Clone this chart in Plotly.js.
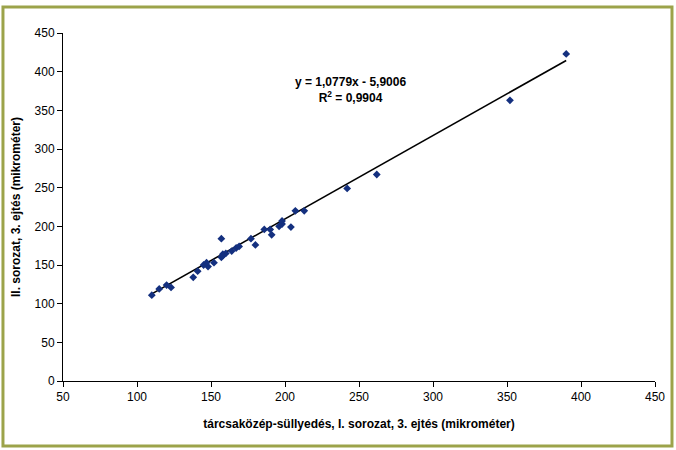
<!DOCTYPE html>
<html><head><meta charset="utf-8">
<script src="https://cdn.plot.ly/plotly-3.0.1.min.js"></script>
<style>html,body{margin:0;padding:0;background:#fff}#chart{width:676px;height:450px}</style>
</head><body><div id="chart"></div>
<script>
const xValues = [110,115,120,123,138,141,145,148,147,152,157,157,158,160,158,164,167,169,177,180,186,190,191,196,198,198,204,207,213,242,262,352,390];
const yValues = [111,119,124,121,134,142,150,148,153,153,160,184,164,165,162,168,172,174,184,176,196,196,189,200,203,207,199,220,220,249,267,363,423];
const slope = 1.0779;
const intercept = -5.9006;
const rSquared = 0.9904;
const equationText = "y = 1,0779x - 5,9006";
const rText = "R<sup>2</sup> = 0,9904";
const xTicks = [50,100,150,200,250,300,350,400,450];
const yTicks = [0,50,100,150,200,250,300,350,400,450];

const xMin = Math.min(...xValues), xMax = Math.max(...xValues);
const trendX = [xMin, xMax];
const trendY = trendX.map(x => slope * x + intercept);

const font = "Liberation Sans, Arial, sans-serif";
const data = [
  {x: trendX, y: trendY, type: 'scatter', mode: 'lines', line: {color: '#000', width: 1.6}, hoverinfo: 'skip'},
  {x: xValues, y: yValues, type: 'scatter', mode: 'markers',
   marker: {symbol: 'diamond', size: 6, color: '#14307F'}}
];
const layout = {
  width: 676, height: 450,
  margin: {l: 63, r: 21, t: 33, b: 69},
  showlegend: false,
  paper_bgcolor: '#fff', plot_bgcolor: '#fff',
  font: {family: font, size: 12, color: '#000'},
  xaxis: {range: [50, 450], tickvals: xTicks, showgrid: false, zeroline: false,
    showline: true, linecolor: '#000', linewidth: 1, ticks: 'outside', ticklen: 5, tickcolor: '#000',
    tickfont: {size: 12},
    title: {text: '<b>tárcsaközép-süllyedés, I. sorozat, 3. ejtés (mikrométer)</b>', font: {size: 12}, standoff: 16}},
  yaxis: {range: [0, 450], tickvals: yTicks, showgrid: false, zeroline: false,
    showline: true, linecolor: '#000', linewidth: 1, ticks: 'outside', ticklen: 5, tickcolor: '#000',
    tickfont: {size: 12},
    title: {text: '<b>II. sorozat, 3. ejtés (mikrométer)</b>', font: {size: 12}, standoff: 11}},
  annotations: [{x: 244, y: 376, xref: 'x', yref: 'y', showarrow: false,
    text: '<b>' + equationText + '<br>' + rText + '</b>', font: {size: 12, family: font}, align: 'center'}],
  shapes: [{type: 'rect', xref: 'paper', yref: 'paper', x0: -0.1014, x1: 1.0287, y0: -0.1868, y1: 1.0747,
    line: {color: '#9CA34A', width: 3}, layer: 'below'}]
};
Plotly.newPlot('chart', data, layout, {displayModeBar: false, staticPlot: true});
</script></body></html>
